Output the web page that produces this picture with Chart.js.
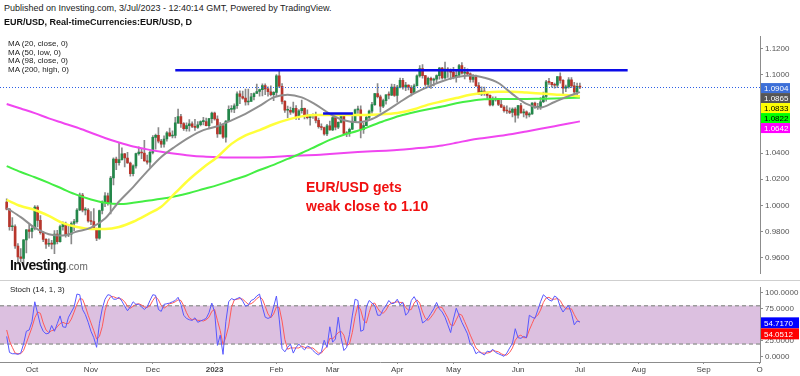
<!DOCTYPE html>
<html>
<head>
<meta charset="utf-8">
<script src="https://cdn.jsdelivr.net/npm/chart.js@4.4.0/dist/chart.umd.min.js"></script>
<style>
body { margin: 0; background: #fff; width: 800px; height: 376px; overflow: hidden; position: relative; font-family: 'Liberation Sans', Arial, sans-serif; }
canvas { position: absolute; left: 0; }
#precos { top: 30px; }
#estoc { top: 281px; }
#divisao { position: absolute; left: 0; top: 280px; width: 800px; height: 1px; background: #cfcfcf; }
.txt { position: absolute; white-space: nowrap; z-index: 2; }
</style>
</head>
<body>
<canvas id="precos" width="800" height="250" style="width:800px;height:250px"></canvas>
<div id="divisao"></div>
<canvas id="estoc" width="800" height="95" style="width:800px;height:95px"></canvas>

<div class="txt" style="left:4px;top:3px;font-size:9px;color:#222">Published on Investing.com, 3/Jul/2023 - 12:40:14 GMT, Powered by TradingView.</div>
<div class="txt" style="left:4px;top:17px;font-size:9px;font-weight:bold;color:#111">EUR/USD, Real-timeCurrencies:EUR/USD, D</div>
<div class="txt" style="left:8px;top:40px;font-size:8px;line-height:8.5px;color:#222">MA (20, close, 0)<br>MA (50, low, 0)<br>MA (98, close, 0)<br>MA (200, high, 0)</div>
<div class="txt" style="left:306px;top:178px;font-size:14px;line-height:19px;font-weight:bold;color:#f01010">EUR/USD gets<br>weak close to 1.10</div>
<div class="txt" style="left:10px;top:257px;font-size:14px;font-weight:bold;letter-spacing:-0.6px;color:#111">Investing<span style="font-size:10px;font-weight:normal;color:#666;letter-spacing:0">.com</span></div>
<div class="txt" style="left:10px;top:285px;font-size:8px;color:#222">Stoch (14, 1, 3)</div>

<script>
// EUR/USD diario, 20/set/2022 ate 3/jul/2023 (indice = pregao)
const abertura = [
1.0026,0.9971,0.9837,0.9838,0.9690,0.9607,0.9594,0.9736,0.9814,
0.9802,0.9824,0.9987,0.9886,0.9792,0.9741,0.9703,0.9707,0.9704,0.9780,0.9722,0.9838,0.9859,0.9774,0.9780,0.9862,0.9876,0.9965,1.0078,0.9964,0.9965,
0.9882,0.9877,0.9819,0.9749,0.9961,1.0020,1.0074,1.0015,1.0209,1.0354,1.0326,1.0350,1.0394,1.0362,1.0324,1.0243,1.0302,1.0395,1.0408,1.0400,1.0340,1.0330,
1.0405,1.0520,1.0535,1.0491,1.0467,1.0507,1.0554,1.0530,1.0535,1.0631,1.0679,1.0625,1.0587,1.0609,1.0623,1.0604,1.0596,1.0616,1.0640,1.0640,1.0610,1.0663,
1.0705,1.0660,1.0546,1.0607,1.0522,1.0645,1.0733,1.0735,1.0761,1.0852,1.0832,1.0820,1.0790,1.0795,1.0830,1.0855,1.0870,1.0885,1.0915,1.0890,1.0868,1.0845,
1.0863,1.0990,1.0910,1.0795,1.0727,1.0727,1.0713,1.0741,1.0677,1.0723,1.0741,1.0688,1.0671,1.0694,1.0686,1.0650,1.0602,1.0595,1.0546,1.0607,
1.0577,1.0670,1.0598,1.0634,1.0681,1.0549,1.0547,1.0582,1.0642,1.0730,1.0731,1.0578,1.0610,1.0672,1.0720,1.0770,1.0855,1.0830,1.0758,1.0800,1.0845,1.0843,1.0904,
1.0840,1.0903,1.0956,1.0904,1.0920,1.0902,1.0861,1.0914,1.0990,1.1046,1.0992,1.0925,1.0970,1.0957,1.0964,1.0991,1.1049,1.0973,1.1042,1.1028,
1.1018,1.0975,1.0994,1.1069,1.1010,1.1018,1.1005,1.0962,1.0981,1.0915,1.0849,1.0873,1.0861,1.0840,1.0768,1.0806,1.0814,1.0771,1.0751,1.0724,1.0721,1.0710,1.0735,
1.0689,1.0763,1.0707,1.0714,1.0692,1.0698,1.0781,1.0750,1.0750,1.0792,1.0832,1.0944,1.0940,1.0922,1.0918,1.0985,1.0955,1.0895,1.0906,1.0960,1.0913,1.0867,
1.0909];
const maxima = [
1.0051,0.9976,0.9907,0.9852,0.9709,0.9671,0.9739,0.9815,0.9853,
0.9848,0.9999,0.9999,0.9923,0.9800,0.9747,0.9744,0.9733,0.9807,0.9809,0.9850,0.9875,0.9872,0.9847,0.9874,0.9894,0.9976,1.0094,1.0093,0.9983,0.9976,
0.9953,0.9976,0.9826,0.9965,1.0034,1.0097,1.0094,1.0222,1.0364,1.0370,1.0481,1.0440,1.0397,1.0405,1.0330,1.0309,1.0400,1.0448,1.0433,1.0497,1.0384,1.0415,
1.0534,1.0545,1.0595,1.0505,1.0531,1.0563,1.0590,1.0569,1.0673,1.0736,1.0695,1.0632,1.0630,1.0655,1.0638,1.0657,1.0640,1.0646,1.0672,1.0667,1.0665,1.0713,
1.0713,1.0684,1.0632,1.0621,1.0648,1.0760,1.0762,1.0776,1.0868,1.0875,1.0874,1.0888,1.0888,1.0856,1.0860,1.0927,1.0888,1.0928,1.0929,1.0906,1.0914,1.0870,
1.1000,1.1033,1.0930,1.0801,1.0758,1.0752,1.0790,1.0762,1.0732,1.0804,1.0744,1.0730,1.0695,1.0700,1.0712,1.0668,1.0623,1.0598,1.0620,1.0645,
1.0691,1.0670,1.0639,1.0694,1.0694,1.0563,1.0590,1.0705,1.0736,1.0759,1.0760,1.0626,1.0689,1.0729,1.0788,1.0857,1.0930,1.0843,1.0812,1.0847,1.0867,1.0926,1.0925,
1.0918,1.0973,1.0970,1.0941,1.0922,1.0915,1.0927,1.0998,1.1068,1.1075,1.0993,1.0980,1.0980,1.0972,1.0998,1.1055,1.1054,1.1095,1.1053,1.1044,
1.1055,1.1035,1.1078,1.1092,1.1054,1.1043,1.1012,1.1000,1.0995,1.0939,1.0905,1.0904,1.0868,1.0845,1.0829,1.0829,1.0818,1.0808,1.0762,1.0760,1.0746,1.0746,1.0747,
1.0765,1.0779,1.0735,1.0723,1.0709,1.0786,1.0790,1.0779,1.0824,1.0865,1.0955,1.0971,1.0941,1.0935,1.0985,1.1012,1.0961,1.0920,1.0977,1.0976,1.0940,1.0934,
1.0935];
const minimas = [
0.9966,0.9810,0.9807,0.9671,0.9553,0.9571,0.9536,0.9636,0.9749,
0.9752,0.9813,0.9835,0.9780,0.9722,0.9671,0.9687,0.9668,0.9632,0.9705,0.9720,0.9810,0.9758,0.9762,0.9705,0.9807,0.9865,0.9959,0.9951,0.9928,0.9871,
0.9853,0.9817,0.9731,0.9742,0.9935,0.9991,1.0001,0.9935,1.0157,1.0272,1.0307,1.0345,1.0293,1.0320,1.0223,1.0226,1.0285,1.0384,1.0357,1.0338,1.0315,1.0290,
1.0393,1.0429,1.0478,1.0443,1.0444,1.0490,1.0526,1.0515,1.0515,1.0625,1.0596,1.0573,1.0568,1.0568,1.0593,1.0573,1.0588,1.0608,1.0614,1.0608,1.0593,1.0630,
1.0652,1.0519,1.0546,1.0511,1.0483,1.0642,1.0713,1.0708,1.0740,1.0778,1.0811,1.0766,1.0767,1.0794,1.0806,1.0855,1.0835,1.0836,1.0845,1.0835,1.0836,1.0800,
1.0830,1.0900,1.0776,1.0710,1.0670,1.0695,1.0705,1.0656,1.0655,1.0704,1.0660,1.0661,1.0613,1.0664,1.0631,1.0590,1.0577,1.0536,1.0533,1.0575,
1.0571,1.0577,1.0586,1.0631,1.0547,1.0525,1.0527,1.0578,1.0634,1.0703,1.0516,1.0550,1.0610,1.0656,1.0704,1.0763,1.0822,1.0713,1.0747,1.0773,1.0814,1.0838,1.0832,
1.0788,1.0898,1.0888,1.0876,1.0882,1.0836,1.0860,1.0911,1.0980,1.0971,1.0910,1.0914,1.0893,1.0912,1.0937,1.0965,1.0965,1.0965,1.0978,1.0962,
1.0966,1.0942,1.0980,1.1002,1.0967,1.0997,1.0942,1.0941,1.0907,1.0847,1.0838,1.0841,1.0811,1.0760,1.0759,1.0797,1.0761,1.0746,1.0713,1.0703,1.0700,1.0675,1.0635,
1.0667,1.0705,1.0676,1.0667,1.0675,1.0695,1.0741,1.0733,1.0733,1.0785,1.0797,1.0924,1.0903,1.0896,1.0900,1.0933,1.0844,1.0869,1.0896,1.0899,1.0834,1.0835,
1.0891];
const fechamento = [
0.9971,0.9837,0.9838,0.9690,0.9607,0.9594,0.9736,0.9814,0.9802,
0.9824,0.9987,0.9886,0.9792,0.9741,0.9703,0.9707,0.9704,0.9780,0.9722,0.9838,0.9859,0.9774,0.9780,0.9862,0.9876,0.9965,1.0078,0.9964,0.9965,0.9882,
0.9877,0.9819,0.9749,0.9961,1.0020,1.0074,1.0015,1.0209,1.0354,1.0326,1.0350,1.0394,1.0362,1.0324,1.0243,1.0302,1.0395,1.0408,1.0400,1.0340,1.0330,1.0405,
1.0520,1.0535,1.0491,1.0467,1.0507,1.0554,1.0530,1.0535,1.0631,1.0679,1.0625,1.0587,1.0609,1.0623,1.0604,1.0596,1.0616,1.0640,1.0640,1.0610,1.0663,1.0705,
1.0660,1.0546,1.0607,1.0522,1.0645,1.0733,1.0735,1.0761,1.0852,1.0832,1.0820,1.0790,1.0795,1.0830,1.0855,1.0870,1.0885,1.0915,1.0890,1.0868,1.0845,1.0863,
1.0990,1.0910,1.0795,1.0727,1.0727,1.0713,1.0741,1.0677,1.0723,1.0741,1.0688,1.0671,1.0694,1.0686,1.0650,1.0602,1.0595,1.0546,1.0607,1.0577,
1.0670,1.0598,1.0634,1.0681,1.0549,1.0547,1.0582,1.0642,1.0730,1.0731,1.0578,1.0610,1.0672,1.0720,1.0770,1.0855,1.0830,1.0758,1.0800,1.0845,1.0843,1.0904,1.0840,
1.0903,1.0956,1.0904,1.0920,1.0902,1.0861,1.0914,1.0990,1.1046,1.0992,1.0925,1.0970,1.0957,1.0964,1.0991,1.1049,1.0973,1.1042,1.1028,1.1018,
1.0975,1.0994,1.1069,1.1010,1.1018,1.1005,1.0962,1.0981,1.0915,1.0849,1.0873,1.0861,1.0840,1.0768,1.0806,1.0814,1.0771,1.0751,1.0724,1.0721,1.0710,1.0735,1.0689,
1.0763,1.0707,1.0714,1.0692,1.0698,1.0781,1.0750,1.0750,1.0792,1.0832,1.0944,1.0940,1.0922,1.0918,1.0985,1.0955,1.0895,1.0906,1.0960,1.0913,1.0867,1.0909,
1.0904];

// medias moveis, a cada 5 pregoes
const mediaIdx = [0,5,10,15,20,25,30,35,40,45,50,55,60,65,70,75,80,85,90,95,100,105,110,115,120,125,130,135,140,145,150,155,160,165,170,175,180,185,190,195,200,204];
const ma20 = [0.998,0.991,0.983,0.978,0.977,0.980,0.983,0.990,1.003,1.014,1.026,1.037,1.045,1.052,1.0575,1.0605,1.065,1.070,1.076,1.0825,1.0845,1.0825,1.077,1.070,1.065,1.0635,1.066,1.072,1.079,1.0855,1.0905,1.0948,1.098,1.0993,1.0975,1.0935,1.085,1.0775,1.0748,1.079,1.0835,1.0865];
const ma50 = [1.0042,0.9995,0.9965,0.992,0.9865,0.9835,0.982,0.982,0.9835,0.9875,0.993,0.999,1.0095,1.020,1.029,1.037,1.047,1.0535,1.0575,1.062,1.0655,1.068,1.069,1.069,1.069,1.069,1.0692,1.0698,1.071,1.0735,1.077,1.0795,1.082,1.0845,1.086,1.0868,1.0868,1.0862,1.0855,1.0848,1.0842,1.0833];
const ma98 = [1.030,1.0255,1.0215,1.0172,1.0125,1.008,1.0045,1.002,1.001,1.002,1.0035,1.005,1.007,1.0095,1.0125,1.0155,1.019,1.0225,1.027,1.031,1.0355,1.040,1.045,1.050,1.054,1.057,1.061,1.065,1.0685,1.0712,1.0735,1.0755,1.078,1.0798,1.081,1.0812,1.0812,1.0813,1.0815,1.0817,1.082,1.0822];
const ma200 = [1.0775,1.074,1.0705,1.0665,1.063,1.0595,1.0555,1.0515,1.048,1.045,1.0428,1.041,1.0395,1.0382,1.0373,1.0368,1.0365,1.0365,1.0366,1.037,1.0377,1.0382,1.0385,1.0392,1.040,1.0407,1.0413,1.0418,1.0425,1.0435,1.0445,1.0458,1.0478,1.050,1.0515,1.053,1.0545,1.0565,1.0585,1.0605,1.0625,1.0642];

// linhas desenhadas: [pregao inicial, pregao final, nivel]
const resistencia = [60, 221, 1.1033];
const suporteCurto = [112.6, 123.2, 1.0702];

// estocastico (14, 1, 3)
const stochK = [
32,7,5,5,4,6,20,40,42,55, 86,68,50,40,36,37,49,40,52,64, 47,46,62,70,78,98,97,74,66,54, 40,30,15,52,75,90,97,96,90,90,
93,87,79,72,78,86,82,82,78,74, 78,88,97,96,74,71,82,83,84,86, 88,93,82,65,60,58,57,61,54,56, 58,60,69,84,70,18,34,4,55,86,
91,89,91,93,87,79,81,88,90,95, 98,78,62,60,62,78,95,59,13,8, 15,20,6,15,20,15,11,17,15,10, 6,3,8,26,15,47,23,28,62,30,
10,15,35,64,90,88,40,42,78,88, 84,80,65,65,74,80,88,83,84,90, 81,85,65,70,88,94,86,72,53,56, 61,68,75,85,75,70,62,50,38,59,
76,65,54,45,36,20,16,5,8,6, 3,9,8,12,7,5,3,1,6,14, 21,44,30,29,32,30,65,62,60,73, 86,97,93,89,87,95,92,78,70,76,
80,68,50,56,54.717];
const stochD = [
42,25,15,6,5,5,10,22,34,46, 61,70,68,53,42,38,41,42,47,52, 54,52,52,59,70,82,91,90,79,65, 53,41,28,32,47,72,87,94,94,92,
91,90,86,79,76,79,82,83,81,78, 77,80,88,94,89,80,76,79,83,84, 86,89,88,80,69,61,58,59,57,57, 56,58,62,71,74,57,41,19,31,48,
77,89,90,91,90,86,82,83,86,91, 94,90,79,67,61,67,78,77,56,27, 12,14,14,14,14,17,15,14,14,14, 10,6,6,12,16,29,28,33,38,40,
34,18,20,38,63,81,73,57,53,69, 83,84,76,70,68,73,81,84,85,86, 85,85,77,73,74,84,89,84,70,60, 57,62,68,76,78,77,69,61,50,49,
58,67,65,55,45,34,24,14,10,6, 6,6,7,10,9,8,5,3,3,7, 14,26,32,34,30,30,42,52,62,65, 73,85,92,93,90,90,91,88,80,75,
75,75,66,58,54.0512];
const faixaStoch = [20, 80];

const diasMes = [9, 30, 52, 74, 96, 116, 139, 159, 182, 204, 225, 248, 268];
const nomesMes = ['Oct', 'Nov', 'Dec', '2023', 'Feb', 'Mar', 'Apr', 'May', 'Jun', 'Jul', 'Aug', 'Sep', 'O'];
const precoTicks = [0.96, 0.98, 1.00, 1.02, 1.04, 1.06, 1.08, 1.10, 1.12];
const stochTicks = [0, 25, 50, 75, 100];

Chart.defaults.font.family = "'Liberation Sans', Arial, sans-serif";
Chart.defaults.animation = false;

const xMin = -2.38, xMax = 268.1;
const ultimo = fechamento.length - 1;

const verde = '#23874a', vermelho = '#b8352b';
const corVela = fechamento.map((c, i) => c >= abertura[i] ? verde : vermelho);

function pontosMedia(valores) {
    return mediaIdx.map((x, k) => ({ x: x, y: valores[k] }));
}

function linhaMedia(valores, cor, espessura) {
    return {
        type: 'line',
        data: pontosMedia(valores),
        borderColor: cor,
        borderWidth: espessura,
        pointRadius: 0,
        cubicInterpolationMode: 'monotone',
        order: 1
    };
}

function linhaReta(def, cor) {
    return {
        type: 'line',
        data: [{ x: def[0], y: def[2] }, { x: def[1], y: def[2] }],
        borderColor: cor,
        borderWidth: 2.5,
        pointRadius: 0,
        order: 0
    };
}

function eixoY(min, max, marcas, casas) {
    return {
        position: 'right',
        min: min,
        max: max,
        afterBuildTicks: (s) => { s.ticks = marcas.map(v => ({ value: v })); },
        afterFit: (s) => { s.width = 40; },
        grid: { drawOnChartArea: false, drawTicks: true, tickLength: 3, color: '#8c8c8c' },
        border: { display: true, color: '#8c8c8c' },
        ticks: { padding: 2, color: '#555', font: { size: 8 }, callback: (v) => Number(v).toFixed(casas) }
    };
}

function etiquetas(chart, itens, largura, altura) {
    const { ctx, chartArea, scales } = chart;
    let anterior = -Infinity;
    ctx.save();
    ctx.font = "8px 'Liberation Sans', Arial, sans-serif";
    ctx.textBaseline = 'middle';
    itens.forEach((it) => {
        const cy = Math.max(scales.y.getPixelForValue(it.valor) + 1, anterior + altura);
        anterior = cy;
        ctx.fillStyle = it.fundo;
        ctx.fillRect(chartArea.right + 1, cy - altura / 2, largura, altura);
        ctx.fillStyle = it.texto;
        ctx.fillText(it.rotulo, chartArea.right + 4, cy + 0.5);
    });
    ctx.restore();
}

const precoAtual = {
    id: 'precoAtual',
    afterDatasetsDraw(chart) {
        const { ctx, chartArea, scales } = chart;
        const y = Math.round(scales.y.getPixelForValue(fechamento[ultimo])) + 0.5;
        ctx.save();
        ctx.strokeStyle = '#2b5fe6';
        ctx.lineWidth = 1;
        ctx.setLineDash([1, 2]);
        ctx.beginPath();
        ctx.moveTo(chartArea.left, y);
        ctx.lineTo(chartArea.right, y);
        ctx.stroke();
        ctx.restore();
    },
    afterDraw(chart) {
        etiquetas(chart, [
            { valor: fechamento[ultimo], rotulo: fechamento[ultimo].toFixed(4), fundo: '#3c6fd8', texto: '#fff' },
            { valor: ma20[ma20.length - 1], rotulo: ma20[ma20.length - 1].toFixed(4), fundo: '#555', texto: '#fff' },
            { valor: ma50[ma50.length - 1], rotulo: ma50[ma50.length - 1].toFixed(4), fundo: '#ffff00', texto: '#000' },
            { valor: ma98[ma98.length - 1], rotulo: ma98[ma98.length - 1].toFixed(4), fundo: '#00ff00', texto: '#000' },
            { valor: ma200[ma200.length - 1], rotulo: ma200[ma200.length - 1].toFixed(4), fundo: '#ff00ff', texto: '#fff' }
        ], 29, 10);
    }
};

new Chart(document.getElementById('precos'), {
    type: 'bar',
    data: {
        datasets: [
            linhaReta(resistencia, '#0b0be8'),
            linhaReta(suporteCurto, '#0b0be8'),
            linhaMedia(ma20, '#8f8f8f', 2),
            linhaMedia(ma50, '#ffff3a', 2.5),
            linhaMedia(ma98, '#44ee44', 2),
            linhaMedia(ma200, '#f046f0', 2),
            {
                label: 'corpo',
                data: fechamento.map((c, i) => ({ x: i, y: [abertura[i], c] })),
                backgroundColor: corVela,
                barThickness: 2,
                minBarLength: 1,
                grouped: false,
                order: 2
            },
            {
                label: 'pavio',
                data: fechamento.map((c, i) => ({ x: i, y: [minimas[i], maxima[i]] })),
                backgroundColor: '#8a8a8a',
                barThickness: 1,
                grouped: false,
                order: 3
            }
        ]
    },
    options: {
        responsive: false,
        layout: { padding: { top: 5, bottom: 5, left: 0, right: 0 } },
        plugins: { legend: { display: false }, tooltip: { enabled: false } },
        scales: {
            x: { type: 'linear', min: xMin, max: xMax, offset: false, display: false, grid: { offset: false } },
            y: eixoY(0.9482, 1.1288, precoTicks, 4)
        }
    },
    plugins: [precoAtual]
});

const faixa = {
    id: 'faixa',
    beforeDatasetsDraw(chart) {
        const { ctx, chartArea: a, scales } = chart;
        const yAlto = scales.y.getPixelForValue(faixaStoch[1]);
        const yBaixo = scales.y.getPixelForValue(faixaStoch[0]);
        ctx.save();
        ctx.fillStyle = '#dcc0e0';
        ctx.fillRect(a.left, yAlto, a.width, yBaixo - yAlto);
        ctx.strokeStyle = '#9c9c9c';
        ctx.lineWidth = 1.5;
        ctx.setLineDash([4, 3]);
        [yAlto, yBaixo].forEach((y) => {
            ctx.beginPath();
            ctx.moveTo(a.left, y);
            ctx.lineTo(a.right, y);
            ctx.stroke();
        });
        ctx.restore();
    },
    afterDraw(chart) {
        etiquetas(chart, [
            { valor: stochK[ultimo], rotulo: stochK[ultimo].toFixed(4), fundo: '#0000ff', texto: '#fff' },
            { valor: stochD[ultimo], rotulo: stochD[ultimo].toFixed(4), fundo: '#ff0000', texto: '#fff' }
        ], 38, 11);
    }
};

new Chart(document.getElementById('estoc'), {
    type: 'line',
    data: {
        datasets: [
            { data: stochK.map((v, i) => ({ x: i, y: v })), borderColor: '#5858ff', borderWidth: 1, pointRadius: 0 },
            { data: stochD.map((v, i) => ({ x: i, y: v })), borderColor: '#ff5a5a', borderWidth: 1, pointRadius: 0 }
        ]
    },
    options: {
        responsive: false,
        layout: { padding: { top: 2, bottom: 0, left: 0, right: 0 } },
        plugins: { legend: { display: false }, tooltip: { enabled: false } },
        scales: {
            x: {
                type: 'linear',
                min: xMin,
                max: xMax,
                offset: false,
                afterBuildTicks: (s) => { s.ticks = diasMes.map(v => ({ value: v })); },
                afterFit: (s) => { s.height = 14; },
                grid: { drawOnChartArea: false, drawTicks: true, tickLength: 2, color: '#8c8c8c' },
                border: { display: true, color: '#8c8c8c' },
                ticks: {
                    autoSkip: false,
                    maxRotation: 0,
                    padding: 1,
                    color: '#444',
                    font: (c) => ({ size: 8, weight: c.tick && c.tick.value === 74 ? 'bold' : 'normal' }),
                    callback: (v, i) => nomesMes[i]
                }
            },
            y: eixoY(-7.9, 107.8, stochTicks, 4)
        }
    },
    plugins: [faixa]
});
</script>
</body>
</html>
